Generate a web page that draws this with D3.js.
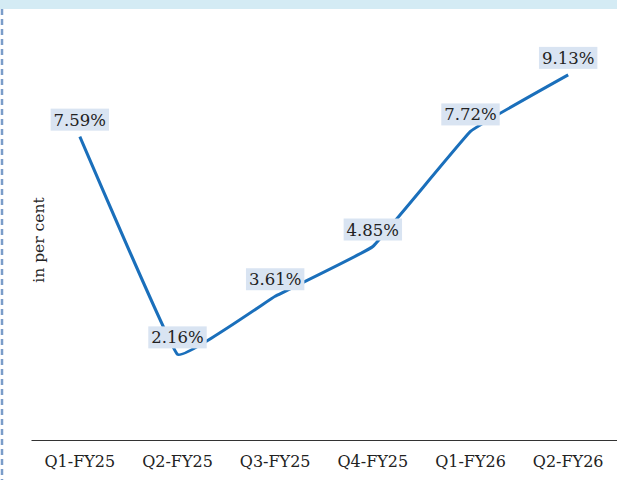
<!DOCTYPE html>
<html>
<head>
<meta charset="utf-8">
<script src="https://cdn.jsdelivr.net/npm/d3@7"></script>
<style>
  html, body { margin: 0; padding: 0; background: #fff; }
  svg { display: block; }
</style>
</head>
<body>
<svg id="chart" width="617" height="480"></svg>
<script>
const categories = ["Q1-FY25", "Q2-FY25", "Q3-FY25", "Q4-FY25", "Q1-FY26", "Q2-FY26"];
const values = [7.59, 2.16, 3.61, 4.85, 7.72, 9.13];
const valueLabels = ["7.59%", "2.16%", "3.61%", "4.85%", "7.72%", "9.13%"];
const yTitle = "in per cent";

const W = 617, H = 480;
const svg = d3.select("#chart");
const font = "'DejaVu Serif', 'Liberation Serif', serif";

// top band
svg.append("rect").attr("x", 0).attr("y", 0).attr("width", W).attr("height", 9).attr("fill", "#d4ebf4");
// left dashed border
svg.append("line").attr("x1", 2).attr("x2", 2).attr("y1", 9).attr("y2", H)
  .attr("stroke", "#7b9dc9").attr("stroke-width", 2.5).attr("stroke-dasharray", "6,4");

const x = d3.scaleBand().domain(categories).range([31, 617]).padding(0);
const y = d3.scaleLinear().domain([0, 10]).range([441, 40]);

// x axis
const xAxis = d3.axisBottom(x).tickSize(0).tickPadding(16);
const gx = svg.append("g").attr("transform", "translate(0,440)").call(xAxis);
gx.select(".domain").attr("stroke", "#333").attr("stroke-width", 1.2);
gx.selectAll("text").attr("font-family", font).attr("font-size", 16).attr("fill", "#222");

// y title
svg.append("text")
  .attr("transform", "translate(44,240) rotate(-90)")
  .attr("text-anchor", "middle")
  .attr("font-family", font).attr("font-size", 15.5).attr("fill", "#222")
  .text(yTitle);

const pts = categories.map((c, i) => [x(c) + x.bandwidth() / 2, y(values[i])]);

const line = d3.line().curve(d3.curveCardinal.tension(0.8));
svg.append("path").attr("d", line(pts))
  .attr("fill", "none").attr("stroke", "#1a6fbb").attr("stroke-width", 3);

// data labels
const lg = svg.append("g");
pts.forEach((p, i) => {
  const g = lg.append("g");
  const t = g.append("text")
    .attr("x", p[0]).attr("y", p[1] - 11)
    .attr("text-anchor", "middle")
    .attr("font-family", font).attr("font-size", 16.5).attr("fill", "#222")
    .text(valueLabels[i]);
  const bb = t.node().getBBox();
  g.insert("rect", "text")
    .attr("x", bb.x - 3).attr("y", bb.y - 2)
    .attr("width", bb.width + 6).attr("height", bb.height + 3)
    .attr("fill", "#d9e4f2");
});
</script>
</body>
</html>
